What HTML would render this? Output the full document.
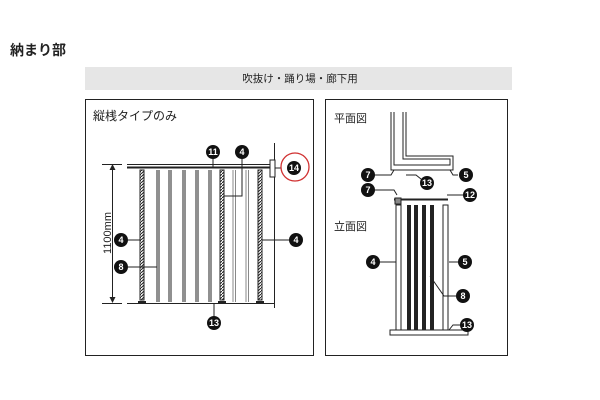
<!DOCTYPE html><html><head><meta charset="utf-8"><style>body{margin:0;background:#fff}svg{display:block}text{font-family:"Liberation Sans","Noto Sans CJK JP",sans-serif}</style></head><body>
<svg width="600" height="400" viewBox="0 0 600 400" xmlns="http://www.w3.org/2000/svg">
<defs>
<pattern id="h" width="3" height="3" patternUnits="userSpaceOnUse"><rect width="3" height="3" fill="#fff"/><path d="M0 3L3 0" stroke="#222" stroke-width="1"/></pattern>
<g id="c"><circle r="7" fill="#111"/></g>
</defs>
<text x="10" y="55" font-size="14" font-weight="bold" fill="#222">納まり部</text>
<rect x="85" y="67" width="427" height="23" fill="#e6e6e6"/>
<text x="300" y="82" font-size="10.5" text-anchor="middle" fill="#222">吹抜け・踊り場・廊下用</text>
<rect x="85.5" y="99.5" width="228" height="256" fill="none" stroke="#222"/>
<rect x="325.5" y="99.5" width="182" height="256" fill="none" stroke="#222"/>
<text x="93" y="120" font-size="12" fill="#222">縦桟タイプのみ</text>
<g stroke="#222" fill="none">
<line x1="127" y1="164.5" x2="272" y2="164.5"/>
<line x1="127" y1="167.5" x2="270" y2="167.5" stroke-width="2"/>
<line x1="274.5" y1="143" x2="274.5" y2="308"/>
<rect x="270" y="160" width="5" height="17" fill="#fff"/>
<line x1="127" y1="303.5" x2="274" y2="303.5"/>
<line x1="102" y1="164.5" x2="122" y2="164.5"/>
<line x1="102" y1="303.5" x2="122" y2="303.5"/>
<line x1="112.5" y1="166" x2="112.5" y2="302"/>
<g stroke-width="1"><path d="M157 170v132M159 170v132M169 170v132M171 170v132M183 170v132M185 170v132M196 170v132M198 170v132M209 170v132M211 170v132"/></g>
<g stroke="#888"><path d="M233 170v132M235.5 170v132M246 170v132M248.5 170v132"/></g>
<rect x="140" y="170" width="4" height="130" fill="url(#h)"/>
<rect x="220" y="170" width="4" height="130" fill="url(#h)"/>
<rect x="258" y="170" width="4" height="130" fill="url(#h)"/>
<path d="M138 302h8M218 302h8M256 302h8" stroke-width="2"/>
<path d="M213 158v9M242 158v38h-18M121 240h20M121 267h36M262 240h34M214 304v14M275 168h15"/>
</g>
<path d="M112.5 164l-3 6h6zM112.5 303l-3-6h6z" fill="#222"/>
<text transform="translate(111 233) rotate(-90)" font-size="11" text-anchor="middle" fill="#222">1100mm</text>
<circle cx="295" cy="167" r="14" fill="#fff" stroke="#d03030" stroke-width="1.3"/>
<g font-size="9" font-weight="bold" fill="#fff" text-anchor="middle">
<use href="#c" x="213" y="152"/><text x="213" y="155">11</text>
<use href="#c" x="242" y="152"/><text x="242" y="155">4</text>
<use href="#c" x="294" y="168"/><text x="294" y="171">14</text>
<use href="#c" x="121" y="240"/><text x="121" y="243">4</text>
<use href="#c" x="121" y="267"/><text x="121" y="270">8</text>
<use href="#c" x="296" y="240"/><text x="296" y="243">4</text>
<use href="#c" x="214" y="323"/><text x="214" y="326">13</text>
</g>
<text x="334" y="122" font-size="11" fill="#222">平面図</text>
<text x="334" y="230" font-size="11" fill="#222">立面図</text>
<g stroke="#222" fill="none">
<path d="M391 112v58h62v-14h-47v-44"/>
<path d="M394 112v53h56v-6h-47v-47"/>
<path d="M374 175h17l3-5M426 183l-10-8h-10M458 175h-5l-3-5M374 190h20l3 5M467 195h-20"/>
<line x1="394" y1="199.5" x2="448" y2="199.5" stroke-width="2"/>
<rect x="395" y="198" width="6" height="6" fill="#888"/>
<rect x="396" y="205" width="5" height="125"/>
<rect x="443" y="205" width="5" height="125"/>
<path d="M379 262h17M449 262h10M456 296h-12l-14-20M461 325h-8l-4 5"/>
<rect x="390" y="330" width="78" height="5"/>
</g>
<g fill="#222"><rect x="407" y="205" width="4" height="125"/><rect x="414" y="205" width="4" height="125"/><rect x="422" y="205" width="4" height="125"/><rect x="430" y="205" width="4" height="125"/></g>
<g font-size="9" font-weight="bold" fill="#fff" text-anchor="middle">
<use href="#c" x="368" y="175"/><text x="368" y="178">7</text>
<use href="#c" x="427" y="183"/><text x="427" y="186">13</text>
<use href="#c" x="466" y="175"/><text x="466" y="178">5</text>
<use href="#c" x="368" y="190"/><text x="368" y="193">7</text>
<use href="#c" x="470" y="195"/><text x="470" y="198">12</text>
<use href="#c" x="373" y="262"/><text x="373" y="265">4</text>
<use href="#c" x="465" y="262"/><text x="465" y="265">5</text>
<use href="#c" x="463" y="296"/><text x="463" y="299">8</text>
<use href="#c" x="467" y="325"/><text x="467" y="328">13</text>
</g>
</svg></body></html>
